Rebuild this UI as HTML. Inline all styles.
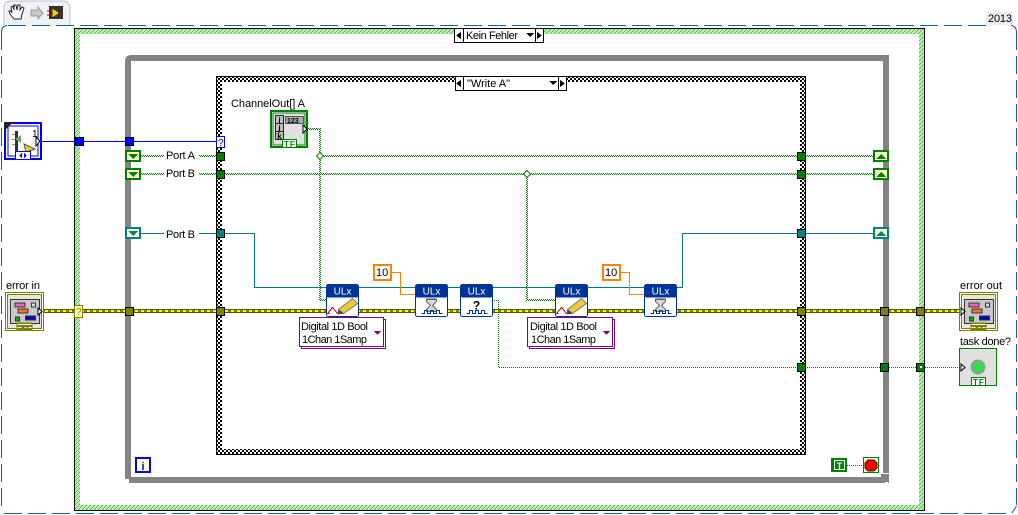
<!DOCTYPE html>
<html><head><meta charset="utf-8"><style>
html,body{margin:0;padding:0;background:#fff;width:1018px;height:515px;overflow:hidden}
svg{display:block}
text{font-family:"Liberation Sans",sans-serif;font-size:11px;fill:#000}
.g1{fill:none;stroke:#008000;stroke-width:1;stroke-dasharray:1 1}
.t{fill:none;stroke:#007b7b;stroke-width:1}
.o{fill:none;stroke:#ff7f00;stroke-width:1}
</style></head><body>
<svg width="1018" height="515" viewBox="0 0 1018 515" xmlns="http://www.w3.org/2000/svg" shape-rendering="crispEdges">
<defs>
<pattern id="hatch" width="4" height="4" patternUnits="userSpaceOnUse"><rect width="4" height="4" fill="#b4f0a8"/><rect x="3" y="0" width="1" height="1" fill="#6aaa6a"/><rect x="2" y="1" width="1" height="1" fill="#6aaa6a"/><rect x="1" y="2" width="1" height="1" fill="#6aaa6a"/><rect x="0" y="3" width="1" height="1" fill="#6aaa6a"/></pattern>
<pattern id="check" width="4" height="4" patternUnits="userSpaceOnUse"><rect width="4" height="4" fill="#fff"/><rect width="2" height="2" fill="#000"/><rect x="2" y="2" width="2" height="2" fill="#000"/></pattern>
<pattern id="gw" width="2" height="2" patternUnits="userSpaceOnUse"><rect width="2" height="2" fill="#fff"/><rect width="1" height="1" fill="#008000"/><rect x="1" y="1" width="1" height="1" fill="#008000"/></pattern>
<g id="ulx"><rect x="0" y="0" width="32" height="32" rx="2" fill="#fff" stroke="#003399" stroke-width="1"/><rect x="0" y="0" width="32" height="13" rx="2" fill="#003399"/><text x="16" y="10" text-anchor="middle" style="fill:#fff;font-size:10px">ULx</text></g>
<g id="wave"><path d="M6 29h3v-3h3v3h3v-3h3v3h3v-3h3v3h3" fill="none" stroke="#003399"/></g>
<g id="write"><path d="M1 29l5-6 5 6" fill="none" stroke="#d00000"/><path d="M1 29h2M11 29h5" stroke="#003399" fill="none"/><path d="M12 25l14-11 5 5-14 10z" fill="#eecc33" stroke="#777" shape-rendering="auto"/><path d="M12 25l-1 5 6-1z" fill="#444" shape-rendering="auto"/></g>
<g id="hour"><path d="M11 15h10v2l-4 4 4 4v2h-10v-2l4-4-4-4z" fill="#d8d8d8" stroke="#666" shape-rendering="auto"/><rect x="11" y="14" width="10" height="1" fill="#555"/></g>
<g id="errc"><rect x="0" y="0" width="38" height="38" fill="#fff" stroke="#808000"/><rect x="2" y="2" width="34" height="34" fill="#e8e8d8" stroke="#808000"/><rect x="5" y="7" width="29" height="24" fill="#c8c8c8" stroke="#333"/><rect x="9.500" y="10.500" width="10" height="4" fill="#ff60b0" stroke="#333"/><rect x="12.500" y="16.500" width="10" height="4" fill="#ff7030" stroke="#333"/><rect x="26" y="10.500" width="4" height="4" fill="#ddd" stroke="#333"/><rect x="10" y="24.500" width="4" height="4" fill="#00b000" stroke="#333"/><rect x="20" y="23.500" width="10" height="4" fill="#0000c0" stroke="#333"/><rect x="11" y="30" width="16" height="8" fill="#808000"/><path d="M12 32h14M12 35h4M19 35h2M23 35h3" stroke="#fff" fill="none"/></g>
<g id="srD"><rect x="1" y="1" width="14" height="10" fill="#fffdd0" stroke-width="2"/><path d="M3 4h10l-5 5z" stroke="none"/></g>
<g id="srU"><rect x="1" y="1" width="14" height="10" fill="#fffdd0" stroke-width="2"/><path d="M3 9h10l-5-5z" stroke="none"/></g>
</defs>

<!-- toolbar tab -->
<path d="M4 25V8Q4 1 11 1H63Q69 1 70 8V25" fill="#f0f2f5" stroke="#b8c2d4"/>
<path d="M14 19l-4-5-1-3 2 0 1 2-1-6 2-1 1 4 0-5 2 0 1 5 1-5 2 0 0 5 2-3 2 1-2 6-1 5z" fill="#fff" stroke="#222" shape-rendering="auto"/>
<path d="M31 10h7v-3l5 6-5 6v-3h-7z" fill="#c8c8c8" stroke="#999" shape-rendering="auto"/>
<rect x="49" y="6" width="14" height="13" fill="#333"/><path d="M52 8v10l8-5z" fill="#e8d800" stroke="#333" shape-rendering="auto"/><path d="M47 11h5M47 15h5" stroke="#d00000"/><path d="M58 13h5" stroke="#d00000"/>

<!-- 2013 tab -->
<rect x="986" y="12" width="27" height="13" fill="#ececec"/>
<text x="988" y="22" textLength="24" lengthAdjust="spacing">2013</text>

<!-- dashed BD border -->
<path d="M8 25.500H986" fill="none" stroke="#0d5f9e" stroke-dasharray="18 6"/>
<path d="M4 513.500H1010" fill="none" stroke="#0d5f9e" stroke-dasharray="18 6"/>
<path d="M1.500 32V510" fill="none" stroke="#0d5f9e" stroke-dasharray="18 6"/>
<path d="M1016.500 32V505" fill="none" stroke="#0d5f9e" stroke-dasharray="18 6"/>
<path d="M1.500 32Q1.500 26 7 25.500M1011 25.500Q1016.500 26 1016.500 32M1016.500 506L1012 513" fill="none" stroke="#0d5f9e" shape-rendering="auto"/>

<!-- outer case -->
<rect x="74" y="28" width="851" height="483" fill="#000"/>
<rect x="75" y="29" width="849" height="481" fill="url(#hatch)"/>
<rect x="80" y="34" width="839" height="471" fill="#fff"/>
<rect x="454.500" y="28.500" width="89" height="14" fill="#fff" stroke="#000"/>
<path d="M463.500 28v15M535.500 28v15" stroke="#000"/>
<path d="M461 32v7l-5-3.500z" fill="#000"/><path d="M537 32v7l5-3.500z" fill="#000"/>
<path d="M526 33h8l-4 4z" fill="#000"/>
<text x="466" y="39" textLength="52" lengthAdjust="spacing">Kein Fehler</text>

<!-- while loop -->
<path d="M128 479V61Q128 58 131 58H886V473" fill="none" stroke="#848484" stroke-width="6"/>
<rect x="129" y="477" width="752" height="6" fill="#848484"/>
<rect x="881" y="474" width="8" height="9" fill="#848484"/><rect x="885" y="482" width="3" height="1" fill="#fff"/>

<!-- inner case -->
<rect x="216" y="76" width="590" height="379" fill="#000"/>
<rect x="217" y="77" width="588" height="377" fill="url(#check)"/>
<rect x="222" y="82" width="578" height="367" fill="#fff"/>
<rect x="455.500" y="76.500" width="111" height="14" fill="#fff" stroke="#000"/>
<path d="M463.500 76v15M558.500 76v15" stroke="#000"/>
<path d="M461 80v7l-5-3.500z" fill="#000"/><path d="M560 80v7l5-3.500z" fill="#000"/>
<path d="M549 81h8l-4 4z" fill="#000"/>
<text x="467" y="87" textLength="43" lengthAdjust="spacing">"Write A"</text>

<!-- blue wire -->
<path d="M38 141.500H216" stroke="#0000ff" fill="none"/>
<rect x="75.500" y="137.500" width="8" height="8" fill="#0000ff" stroke="#000"/>
<rect x="125.500" y="137.500" width="8" height="8" fill="#0000ff" stroke="#000"/>
<rect x="216.500" y="136.500" width="8" height="11" fill="#ffffd0" stroke="#0000ff"/>
<text x="218" y="146" style="font-size:10px;fill:#0000ff">?</text>

<!-- green array wires -->
<g fill="url(#gw)">
<rect x="141" y="155" width="23" height="2"/><rect x="199" y="155" width="17" height="2"/>
<rect x="141" y="173" width="23" height="2"/><rect x="199" y="173" width="17" height="2"/>
<rect x="320" y="155" width="553" height="2"/>
<rect x="225" y="173" width="648" height="2"/>
<rect x="305" y="128" width="15" height="2"/>
<rect x="319" y="128" width="2" height="173"/>
<rect x="319" y="299" width="7" height="2"/>
<rect x="526" y="174" width="2" height="127"/>
<rect x="526" y="299" width="29" height="2"/>
</g>
<path d="M492 300.500H498.500V367.500H960" class="g1"/>
<path d="M320 152.500l3.500 3.500-3.500 3.500-3.500-3.500z" fill="#fff" stroke="#008000" shape-rendering="auto"/>
<path d="M527 170.500l3.500 3.500-3.500 3.500-3.500-3.500z" fill="#fff" stroke="#008000" shape-rendering="auto"/>

<!-- teal wires -->
<path d="M141 233.500H164M199 233.500H216M225 233.500H254.500V287.500H326M358 287.500H644M676 287.500H682.500V233.500H873" class="t"/>

<!-- orange wires -->
<path d="M392 272.500H400.500V294.500H415M620 272.500H629.500V294.500H644" class="o"/>

<!-- error wire -->
<rect x="42" y="309" width="918" height="4" fill="#555500"/>
<rect x="42" y="310" width="918" height="2" fill="#ffff00"/>
<path d="M42 311H960" stroke="#000" stroke-width="1" stroke-dasharray="3 3" fill="none"/>

<!-- error tunnels -->
<rect x="74.500" y="305.500" width="8" height="12" fill="#ffffb0" stroke="#808000"/>
<text x="76" y="315" style="font-size:10px;fill:#808000">?</text>
<g fill="#808000" stroke="#000">
<rect x="125.500" y="307.500" width="8" height="8"/><rect x="216.500" y="307.500" width="8" height="8"/><rect x="797.500" y="307.500" width="8" height="8"/><rect x="880.500" y="307.500" width="8" height="8"/><rect x="916.500" y="307.500" width="8" height="8"/>
</g>
<g fill="#008000" stroke="#000">
<rect x="216.500" y="152.500" width="8" height="8"/><rect x="216.500" y="170.500" width="8" height="8"/>
<rect x="797.500" y="152.500" width="8" height="8"/><rect x="797.500" y="170.500" width="8" height="8"/>
<rect x="797.500" y="363.500" width="8" height="8"/><rect x="880.500" y="363.500" width="8" height="8"/><rect x="916.500" y="363.500" width="8" height="8"/>
</g>
<rect x="920" y="366" width="2" height="2" fill="#fff"/>
<g fill="#008080" stroke="#000">
<rect x="216.500" y="229.500" width="8" height="8"/><rect x="797.500" y="229.500" width="8" height="8"/>
</g>

<!-- shift registers -->
<g fill="#008000" stroke="#008000"><use href="#srD" x="125" y="150"/><use href="#srD" x="125" y="168"/><use href="#srU" x="873" y="150"/><use href="#srU" x="873" y="168"/></g>
<g fill="#008080" stroke="#008080"><use href="#srD" x="125" y="227"/><use href="#srU" x="873" y="227"/></g>

<text x="166" y="159" textLength="29" lengthAdjust="spacing">Port A</text>
<text x="166" y="177" textLength="29" lengthAdjust="spacing">Port B</text>
<text x="166" y="238" textLength="29" lengthAdjust="spacing">Port B</text>

<!-- left control -->
<rect x="5" y="123" width="36" height="36" fill="#fff" stroke="#0000ff" stroke-width="2"/>
<rect x="8" y="126" width="30" height="30" fill="#fff" stroke="#0000ff"/>
<path d="M4 122h9l-9 9z" fill="#222"/>
<rect x="15" y="131" width="3" height="20" fill="#333"/><rect x="12" y="134" width="3" height="1" fill="#888"/><rect x="12" y="139" width="3" height="1" fill="#888"/><rect x="12" y="144" width="3" height="1" fill="#888"/>
<path d="M15 139l6-4v8z" fill="#60b060"/>
<text x="32" y="137" style="font-size:10px">1</text>
<path d="M24 144l11 5-9 3z" fill="#e8d800" stroke="#555" shape-rendering="auto"/>
<rect x="15.500" y="151.500" width="15" height="8" fill="#fff" stroke="#0000ff"/>
<path d="M22 153v5l-3-2.500zM24 153v5l3-2.500z" fill="#0000ff"/>
<path d="M36 137l4 4-4 5z" fill="#fff" stroke="#000" shape-rendering="auto"/>

<!-- error in -->
<text x="6" y="289" textLength="34" lengthAdjust="spacing">error in</text>
<use href="#errc" x="5.500" y="292.500"/>
<path d="M38 308l4 3.500-4 3.500z" fill="#fff" stroke="#000" shape-rendering="auto"/>

<!-- array const -->
<text x="231" y="107" textLength="74" lengthAdjust="spacing">ChannelOut[] A</text>
<rect x="271" y="111" width="36" height="36" fill="#fff" stroke="#008000" stroke-width="2"/>
<rect x="273" y="113" width="32" height="32" fill="#e0e0e0" stroke="#008000"/>
<g fill="#c0c0c0" stroke="#222"><rect x="275.500" y="115.500" width="8" height="8"/><rect x="275.500" y="123.500" width="8" height="8"/><rect x="275.500" y="131.500" width="8" height="8"/></g>
<text x="279.500" y="123" text-anchor="middle" style="font-size:8px;font-weight:bold">i</text><text x="279.500" y="131" text-anchor="middle" style="font-size:8px;font-weight:bold">j</text><text x="279.500" y="139" text-anchor="middle" style="font-size:8px;font-weight:bold">k</text>
<rect x="285.500" y="116.500" width="18" height="7" fill="#aaa" stroke="#555"/>
<text x="287" y="123" style="font-size:7px;font-weight:bold">123</text>
<rect x="282.500" y="139.500" width="14" height="8" fill="#fff" stroke="#008000"/>
<text x="284" y="147" style="font-size:8px;font-weight:bold;fill:#008000;letter-spacing:1px">TF</text>
<path d="M303 125l4 4-4 4z" fill="#fff" stroke="#000" shape-rendering="auto"/>

<!-- ULx nodes -->
<g transform="translate(326.500 284.500)"><use href="#ulx"/><use href="#write"/></g>
<g transform="translate(415.500 284.500)"><use href="#ulx"/><use href="#hour"/><use href="#wave"/></g>
<g transform="translate(460.500 284.500)"><use href="#ulx"/><use href="#wave"/><text x="16" y="25" text-anchor="middle" style="font-size:12px;font-weight:bold">?</text></g>
<g transform="translate(555.500 284.500)"><use href="#ulx"/><use href="#write"/></g>
<g transform="translate(644.500 284.500)"><use href="#ulx"/><use href="#hour"/><use href="#wave"/></g>

<!-- numeric consts -->
<rect x="374" y="265" width="17" height="15" fill="#fff" stroke="#ff7f00" stroke-width="2"/><text x="376" y="276">10</text>
<rect x="603" y="265" width="17" height="15" fill="#fff" stroke="#ff7f00" stroke-width="2"/><text x="605" y="276">10</text>

<!-- poly selectors -->
<g fill="#fff" stroke="#800080">
<rect x="301.500" y="319.500" width="84" height="29"/><rect x="299.500" y="317.500" width="84" height="29"/>
<rect x="529.500" y="319.500" width="85" height="29"/><rect x="527.500" y="317.500" width="85" height="29"/>
</g>
<text x="301" y="330" textLength="67" lengthAdjust="spacing">Digital 1D Bool</text><text x="302" y="343" textLength="65" lengthAdjust="spacing">1Chan 1Samp</text>
<text x="530" y="330" textLength="67" lengthAdjust="spacing">Digital 1D Bool</text><text x="531" y="343" textLength="65" lengthAdjust="spacing">1Chan 1Samp</text>
<path d="M374 331h7l-3.500 4z" fill="#800080"/><path d="M603 331h7l-3.500 4z" fill="#800080"/>

<!-- error out -->
<text x="960" y="289" textLength="42" lengthAdjust="spacing">error out</text>
<use href="#errc" x="959.500" y="292.500"/>
<path d="M961 308l4 3.500-4 3.500z" fill="#fff" stroke="#000" shape-rendering="auto"/>

<!-- task done -->
<text x="960" y="345" textLength="51" lengthAdjust="spacing">task done?</text>
<rect x="959.500" y="348.500" width="37" height="37" fill="#e0e0e0" stroke="#008000"/>
<circle cx="978" cy="367" r="7.500" fill="#999" shape-rendering="auto"/>
<circle cx="978" cy="367" r="5.500" fill="#30e040" shape-rendering="auto"/>
<rect x="971.500" y="377.500" width="14" height="8" fill="#fff" stroke="#008000"/>
<text x="973" y="385" style="font-size:8px;font-weight:bold;fill:#008000;letter-spacing:1px">TF</text>
<path d="M961 364l4 3.500-4 3.500z" fill="#fff" stroke="#000" shape-rendering="auto"/>

<!-- i, T, stop -->
<rect x="136" y="458" width="14" height="14" fill="#ffffd0" stroke="#0000ff" stroke-width="2"/>
<text x="143" y="470" text-anchor="middle" style="font-size:11px;font-weight:bold;fill:#0000ff">i</text>
<rect x="831" y="458" width="16" height="14" fill="#008000"/>
<rect x="834.500" y="460.500" width="10" height="9" fill="none" stroke="#fff"/>
<text x="839.500" y="469" text-anchor="middle" style="font-size:9px;font-weight:bold;fill:#fff">T</text>
<path d="M847 465.500H863" class="g1"/>
<rect x="863.500" y="457.500" width="15" height="15" fill="#ffffd0" stroke="#008000"/>
<path d="M868 460h6l3 3v5l-3 3h-6l-3-3v-5z" fill="#ff0000" stroke="#222" shape-rendering="auto"/>
</svg>
</body></html>
